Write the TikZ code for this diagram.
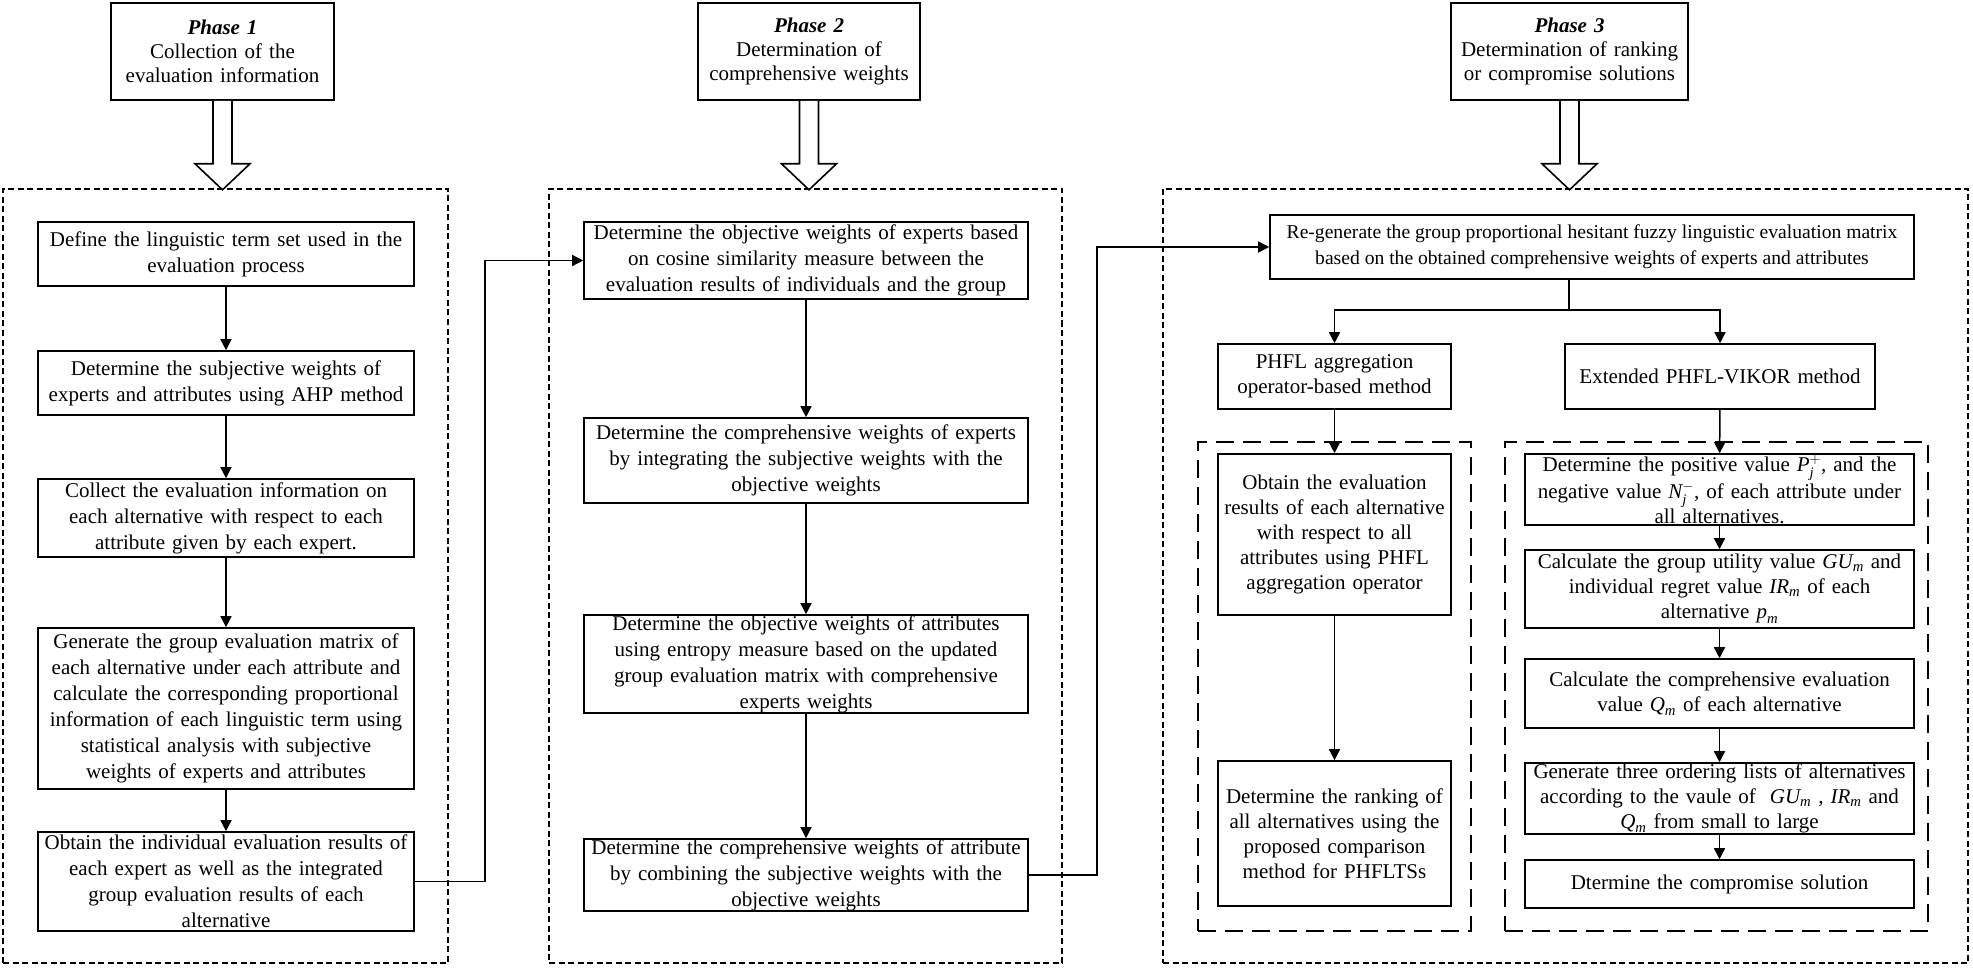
\documentclass[tikz,border=0pt]{standalone}
\usepackage{fontspec}
\usepackage{amsmath}
\setmainfont{Liberation Serif}
\usetikzlibrary{arrows.meta,calc}
\newcommand{\itx}[1]{\textit{#1}}
\tikzset{
 box/.style={draw=black, line width=1.6pt, fill=white, inner sep=0pt, align=center, font=\fontsize{21}{26}\selectfont},
 rbox/.style={box, font=\fontsize{21}{25}\selectfont},
 pbox/.style={box, font=\fontsize{21}{24}\selectfont},
 arr/.style={line width=1.5pt, -{Triangle[width=11pt,length=11pt]}},
 ln/.style={line width=1.5pt},
 outerbox/.style={draw=black, line width=2.4pt, dash pattern=on 6pt off 3.5pt, inner sep=0pt},
 innerbox/.style={draw=black, line width=2pt, dash pattern=on 18pt off 9pt, inner sep=0pt},
 hollow/.style={draw=black, fill=white, line width=1.6pt, line join=miter},
}
\begin{document}
\begin{tikzpicture}[x=1pt,y=-1pt]
\useasboundingbox (0,0) rectangle (1973,968);

% outer dashed groups
\node[outerbox, minimum width=445pt, minimum height=774pt] (g1) at (225.5,576) {};
\node[outerbox, minimum width=513pt, minimum height=774pt] (g2) at (805.5,576) {};
\node[outerbox, minimum width=805pt, minimum height=774pt] (g3) at (1565.5,576) {};
\node[innerbox, minimum width=273pt, minimum height=489pt] (g4) at (1334.5,686.5) {};
\node[innerbox, minimum width=423pt, minimum height=489pt] (g5) at (1716.5,686.5) {};

% phase boxes
\node[pbox, minimum width=223pt, minimum height=97pt, text width=220pt] (p1) at (222.5,51.5)
 {\textbf{\textit{Phase 1}}\\Collection of the\\evaluation information};
\node[pbox, minimum width=222pt, minimum height=97pt, text width=219pt] (p2) at (809,51.5)
 {\textbf{\textit{Phase 2}}\\Determination of\\comprehensive weights};
\node[pbox, minimum width=237pt, minimum height=97pt, text width=234pt] (p3) at (1569.5,51.5)
 {\textbf{\textit{Phase 3}}\\Determination of ranking\\or compromise solutions};

% hollow arrows
\draw[hollow] (p1.south) ++(-9.5,0) -- ++(0,63) -- ++(-18,0) -- ++(27.5,26) -- ++(27.5,-26) -- ++(-18,0) -- ++(0,-63);
\draw[hollow] (p2.south) ++(-9.5,0) -- ++(0,63) -- ++(-18,0) -- ++(27.5,26) -- ++(27.5,-26) -- ++(-18,0) -- ++(0,-63);
\draw[hollow] (p3.south) ++(-9.5,0) -- ++(0,63) -- ++(-18,0) -- ++(27.5,26) -- ++(27.5,-26) -- ++(-18,0) -- ++(0,-63);

% phase 1 column
\node[box, minimum width=376pt, minimum height=64pt, text width=374pt] (d1) at (226,254)
 {Define the linguistic term set used in the\\evaluation process};
\node[box, minimum width=376pt, minimum height=64pt, text width=374pt] (d2) at (226,383)
 {Determine the subjective weights of\\experts and attributes using AHP method};
\node[box, minimum width=376pt, minimum height=78pt, text width=374pt] (d3) at (226,518)
 {Collect the evaluation information on\\each alternative with respect to each\\attribute given by each expert.};
\node[box, minimum width=376pt, minimum height=161pt, text width=374pt] (d4) at (226,708.5)
 {Generate the group evaluation matrix of\\each alternative under each attribute and\\calculate the corresponding proportional\\information of each linguistic term using\\statistical analysis with subjective\\weights of experts and attributes};
\node[box, minimum width=376pt, minimum height=99pt, text width=374pt] (d5) at (226,881.5)
 {Obtain the individual evaluation results of\\each expert as well as the integrated\\group evaluation results of each\\alternative};

% phase 2 column
\node[box, minimum width=444pt, minimum height=77pt, text width=442pt] (e1) at (806,260.5)
 {Determine the objective weights of experts based\\on cosine similarity measure between the\\evaluation results of individuals and the group};
\node[box, minimum width=444pt, minimum height=85pt, text width=442pt] (e2) at (806,460.5)
 {Determine the comprehensive weights of experts\\by integrating the subjective weights with the\\objective weights};
\node[box, minimum width=444pt, minimum height=98pt, text width=442pt] (e3) at (806,664)
 {Determine the objective weights of attributes\\using entropy measure based on the updated\\group evaluation matrix with comprehensive\\experts weights};
\node[box, minimum width=444pt, minimum height=72pt, text width=442pt] (e4) at (806,875)
 {Determine the comprehensive weights of attribute\\by combining the subjective weights with the\\objective weights};

% phase 3
\node[box, font=\fontsize{19.6}{25.7}\selectfont, minimum width=644pt, minimum height=64pt] (r0) at (1592,247)
 {Re-generate the group proportional hesitant fuzzy linguistic evaluation matrix\\based on the obtained comprehensive weights of experts and attributes};
\node[rbox, minimum width=233pt, minimum height=65pt, text width=231pt] (pa) at (1334.5,376.5)
 {PHFL aggregation\\operator-based method};
\node[rbox, minimum width=310pt, minimum height=65pt, text width=308pt] (pv) at (1720,376.5)
 {Extended PHFL-VIKOR method};
\node[rbox, minimum width=233pt, minimum height=161pt, text width=231pt] (a1) at (1334.5,534.5)
 {Obtain the evaluation\\results of each alternative\\with respect to all\\attributes using PHFL\\aggregation operator};
\node[rbox, minimum width=233pt, minimum height=145pt, text width=231pt] (a2) at (1334.5,833.5)
 {Determine the ranking of\\all alternatives using the\\proposed comparison\\method for PHFLTSs};
\node[rbox, minimum width=389pt, minimum height=71pt, text width=387pt] (v1) at (1719.5,489.5)
 {Determine the positive value $\itx{P}_{\itx{j}}^{+}$, and the\\negative value $\itx{N}_{\itx{j}}^{-}$, of each attribute under\\all alternatives.};
\node[rbox, minimum width=389pt, minimum height=78pt, text width=387pt] (v2) at (1719.5,589)
 {Calculate the group utility value $\itx{GU}_{\itx{m}}$ and\\individual regret value $\itx{IR}_{\itx{m}}$ of each\\alternative $\itx{p}_{\itx{m}}$};
\node[rbox, minimum width=389pt, minimum height=69pt, text width=387pt] (v3) at (1719.5,693.5)
 {Calculate the comprehensive evaluation\\value $\itx{Q}_{\itx{m}}$ of each alternative};
\node[rbox, minimum width=389pt, minimum height=71pt, text width=387pt] (v4) at (1719.5,798.5)
 {Generate three ordering lists of alternatives\\according to the vaule of\ \ $\itx{GU}_{\itx{m}}$ , $\itx{IR}_{\itx{m}}$ and\\$\itx{Q}_{\itx{m}}$ from small to large};
\node[rbox, minimum width=389pt, minimum height=48pt, text width=387pt] (v5) at (1719.5,884)
 {Dtermine the compromise solution};

% connectors phase 1
\draw[arr] (d1) -- (d2);
\draw[arr] (d2) -- (d3);
\draw[arr] (d3) -- (d4);
\draw[arr] (d4) -- (d5);
\draw[arr] (d5.east) -- ++(70,0) |- (e1.west);

% connectors phase 2
\draw[arr] (e1) -- (e2);
\draw[arr] (e2) -- (e3);
\draw[arr] (e3) -- (e4);
\draw[arr] (e4.east) -- ++(68,0) |- (r0.west);

% connectors phase 3
\coordinate (s) at (1569,310);
\draw[ln] (s |- r0.south) -- (s);
\draw[arr] (s) -| (pa.north);
\draw[arr] (s) -| (pv.north);
\draw[arr] (pa) -- (a1);
\draw[arr] (a1) -- (a2);
\draw[arr] (pv) -- (v1);
\draw[arr] (v1) -- (v2);
\draw[arr] (v2) -- (v3);
\draw[arr] (v3) -- (v4);
\draw[arr] (v4) -- (v5);
\end{tikzpicture}
\end{document}
